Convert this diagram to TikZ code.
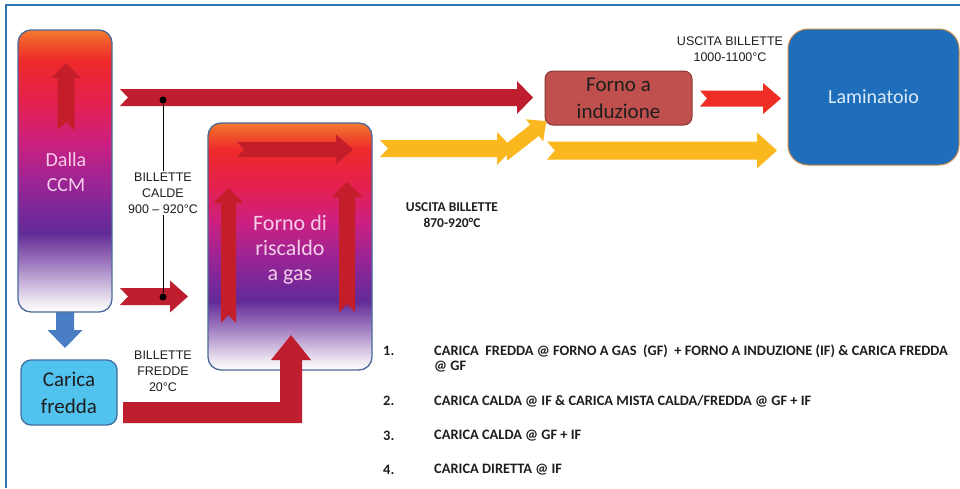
\documentclass[tikz,border=0pt]{standalone}
\usepackage{fontspec}
\setmainfont{Carlito}
\newfontfamily\arialf{Liberation Sans}
\usetikzlibrary{calc}
\definecolor{frameblue}{RGB}{46,117,182}
\definecolor{boxedge}{RGB}{74,106,154}
\definecolor{pinktext}{RGB}{244,206,232}
\definecolor{darkred}{RGB}{190,30,45}
\definecolor{innerred}{RGB}{196,30,42}
\definecolor{brightred}{RGB}{238,46,36}
\definecolor{yel}{RGB}{250,184,30}
\definecolor{bluearrow}{RGB}{74,126,196}
\definecolor{caricafill}{RGB}{82,194,238}
\definecolor{caricaedge}{RGB}{63,111,160}
\definecolor{indfill}{RGB}{192,80,77}
\definecolor{indedge}{RGB}{140,56,54}
\definecolor{lamfill}{RGB}{31,110,187}
\definecolor{lamedge}{RGB}{201,138,74}
\definecolor{lamtext}{RGB}{220,235,248}
\definecolor{txt}{RGB}{30,30,30}
\definecolor{cA}{RGB}{238,230,242}
\definecolor{cB}{RGB}{160,124,192}
\definecolor{cC}{RGB}{98,42,150}
\definecolor{cD}{RGB}{116,40,154}
\definecolor{cE}{RGB}{156,36,149}
\definecolor{cF}{RGB}{204,32,128}
\definecolor{cG}{RGB}{228,32,80}
\definecolor{cH}{RGB}{238,42,42}
\definecolor{cI}{RGB}{240,90,44}
\definecolor{cJ}{RGB}{244,122,48}
\pgfdeclareverticalshading{furnace}{100bp}{color(0bp)=(white); color(25bp)=(white); color(27bp)=(cA); color(33.5bp)=(cB); color(39bp)=(cC); color(42bp)=(cD); color(48bp)=(cE); color(55bp)=(cF); color(62bp)=(cG); color(69.7bp)=(cH); color(73bp)=(cI); color(75bp)=(cJ); color(100bp)=(cJ)}
\tikzset{
  pics/barrow/.style n args={6}{code={
    \fill[#6] (0,-#2) -- ({#1-#4},-#2) -- ({#1-#4},-#3) -- (#1,0) -- ({#1-#4},#3) -- ({#1-#4},#2) -- (0,#2) -- (#5,0) -- cycle;
  }},
  furnacebox/.style={rectangle, rounded corners=13, draw=boxedge, line width=1.3pt, shade, shading=furnace, inner sep=0pt},
  furnacetext/.style={text=pinktext, align=center, inner sep=0pt},
  carica/.style={rectangle, rounded corners=10, draw=caricaedge, line width=1.3pt, fill=caricafill, text=txt, align=center, inner sep=0pt, font=\fontsize{21}{27}\selectfont},
  induz/.style={rectangle, rounded corners=8, draw=indedge, line width=1pt, fill=indfill, text=txt, align=center, inner sep=0pt, font=\fontsize{21}{27}\selectfont},
  lamin/.style={rectangle, rounded corners=20, draw=lamedge, line width=1pt, fill=lamfill, text=lamtext, align=center, inner sep=0pt, font=\fontsize{20}{24}\selectfont},
  lbl/.style={align=center, text=txt, fill=white, inner sep=1.5pt, font=\arialf\fontsize{12.5}{16}\selectfont},
  lblb/.style={align=center, text=txt, inner sep=1pt, font=\bfseries\fontsize{13.5}{16}\selectfont},
  dotn/.style={circle, fill=black, inner sep=0pt, minimum size=7pt},
  listn/.style={anchor=west, text=txt, inner sep=0pt, font=\bfseries\fontsize{14.4}{16}\selectfont},
}
\begin{document}
\begin{tikzpicture}[x=1pt,y=-1pt]
\useasboundingbox (0,0) rectangle (960,488);
\fill[white] (0,0) rectangle (960,488);
\draw[frameblue, line width=1.2pt] (6,488) -- (6,5) -- (960,5);

% blue arrow (behind CCM box)
\pic[rotate=-90] at (65,300) {barrow={48}{9}{17.5}{18}{0}{bluearrow}};

% boxes
\node[furnacebox, minimum width=94pt, minimum height=282pt] (ccm) at (65,171) {};
\node[furnacetext, font=\fontsize{20}{25}\selectfont] (ccmt) at (66,172.5) {Dalla\\CCM};
\pic[rotate=90] at (66,130) {barrow={67}{8.5}{15}{15}{8}{innerred}};

\node[furnacebox, minimum width=164pt, minimum height=247pt] (gas) at (290,246.5) {};
\node[furnacetext, font=\fontsize{22}{25}\selectfont] (gast) at (290,250) {Forno di\\riscaldo\\a gas};
\pic at (237,149.5) {barrow={116}{7.5}{15}{17}{7}{innerred}};
\pic[rotate=90] at (228.5,323) {barrow={135}{7.5}{15}{15}{8}{innerred}};
\pic[rotate=90] at (347,312) {barrow={130}{8}{15.5}{15}{8}{innerred}};

\node[carica, minimum width=96pt, minimum height=65pt] (car) at (69,392.5) {Carica\\fredda};
\node[induz, minimum width=147pt, minimum height=54pt] (ind) at (618.5,98) {Forno a\\induzione};
\node[lamin, minimum width=171pt, minimum height=136pt] (lam) at (873.5,97) {Laminatoio};

% bent arrow from Carica fredda into gas furnace
\fill[darkred] (123,402) -- (280,402) -- (280,360) -- (271,360) -- (291,335) -- (311,360) -- (302,360) -- (302,423) -- (123,423) -- cycle;

% hot billets arrows
\pic at (120,97.5) {barrow={413}{8.5}{16.5}{16}{8}{darkred}};
\pic at (120,296.5) {barrow={68}{8.5}{16}{18}{8}{darkred}};
\node[dotn] (d1) at (163,100) {};
\node[dotn] (d2) at (163,297) {};
\draw[black, line width=1pt] (d1) -- (d2);
\node[lbl] (calde) at (163,193) {BILLETTE\\CALDE\\900 – 920°C};
\node[lbl] (fredde) at (163,371) {BILLETTE\\FREDDE\\20°C};

% yellow arrows
\pic at (380,148.5) {barrow={133}{8.5}{16.5}{16}{8}{yel}};
\pic[rotate=38] at (503,155) {barrow={55}{7}{14}{15}{4}{yel}};
\pic at (547,150.5) {barrow={230}{9}{18}{20}{8}{yel}};

% induction -> rolling mill
\pic at (700,98.5) {barrow={81}{8}{15.5}{18}{7}{brightred}};

\node[lbl, fill=none] (usc1) at (730,49.5) {USCITA BILLETTE\\1000-1100°C};
\node[lblb] (usc2) at (452,215) {USCITA BILLETTE\\870-920°C};

% list
\node[listn] (n1) at (383,351) {1.};
\node[listn] (t1) at (434,351) {CARICA\ \ FREDDA @ FORNO A GAS\ \ (GF)\ \ + FORNO A INDUZIONE (IF) \& CARICA FREDDA};
\node[listn] (t1b) at (434,367) {@ GF};
\node[listn] (n2) at (383,401) {2.};
\node[listn] (t2) at (434,401) {CARICA CALDA @ IF \& CARICA MISTA CALDA/FREDDA @ GF + IF};
\node[listn] (n3) at (383,436) {3.};
\node[listn] (t3) at (434,436) {CARICA CALDA @ GF + IF};
\node[listn] (n4) at (383,470) {4.};
\node[listn] (t4) at (434,470) {CARICA DIRETTA @ IF};
\end{tikzpicture}
\end{document}
